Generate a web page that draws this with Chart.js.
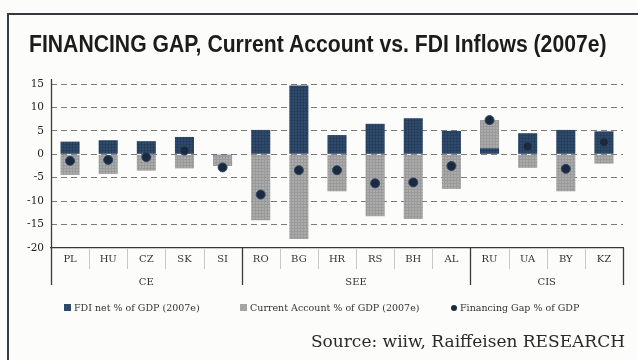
<!DOCTYPE html>
<html>
<head>
<meta charset="utf-8">
<script src="https://cdn.jsdelivr.net/npm/chart.js@4.4.1/dist/chart.umd.min.js"></script>
<style>
  html, body { margin: 0; padding: 0; background: #fcfcfa; }
  #wrap { position: relative; width: 638px; height: 360px; overflow: hidden; }
  #frameTop { position: absolute; left: 7px; top: 13px; width: 640px; height: 2px; background: #343a44; }
  #frameLeft { position: absolute; left: 7px; top: 13px; width: 2px; height: 360px; background: #343a44; }
  #title { position: absolute; left: 29px; top: 31px; font-family: "Liberation Sans Narrow", "Liberation Sans", sans-serif;
           font-weight: bold; font-size: 23px; color: #1c1c1c; white-space: nowrap; transform-origin: 0 0; }
  canvas { position: absolute; left: 0; top: 0; }
  .leg { position: absolute; top: 302px; font-family: "DejaVu Serif", serif; font-size: 9.5px; color: #333; white-space: nowrap; }
  .sw { display: inline-block; width: 7px; height: 7px; margin-right: 3px; vertical-align: 0px; }
  #source { position: absolute; right: 13px; top: 331px; font-family: "DejaVu Serif", serif; font-size: 17px; color: #2a2a2a; }
</style>
</head>
<body>
<div id="wrap">
  <canvas id="c" width="638" height="360"></canvas>
  <div id="frameTop"></div>
  <div id="frameLeft"></div>
  <div id="title">FINANCING GAP, Current Account vs. FDI Inflows (2007e)</div>
  <div class="leg" style="left:64px"><span class="sw" style="background:#2d4a6b"></span>FDI net % of GDP (2007e)</div>
  <div class="leg" style="left:240px"><span class="sw" style="background:#a4a4a4"></span>Current Account % of GDP (2007e)</div>
  <div class="leg" style="left:451px"><span class="sw" style="background:#1b2a3f;border-radius:50%;width:6px;height:6px"></span>Financing Gap % of GDP</div>
  <div id="source">Source: wiiw, Raiffeisen RESEARCH</div>
</div>
<script>
const countries = ["PL", "HU", "CZ", "SK", "SI", "RO", "BG", "HR", "RS", "BH", "AL", "RU", "UA", "BY", "KZ"];
const fdiNet = [2.7, 3.0, 2.8, 3.7, -0.2, 5.2, 14.7, 4.1, 6.5, 7.7, 5.0, 1.3, 4.5, 5.2, 4.9];
const currentAccount = [-4.4, -4.2, -3.5, -3.0, -2.3, -14.1, -18.1, -7.9, -13.2, -13.8, -7.4, 6.0, -2.9, -7.9, -2.0];
const financingGap = [-1.4, -1.2, -0.6, 0.8, -2.8, -8.6, -3.4, -3.4, -6.2, -6.0, -2.5, 7.3, 1.7, -3.1, 2.6];
const regions = ["CE", "SEE", "CIS"];
const regionSizes = [5, 6, 4];
const yTicks = [15, 10, 5, 0, -5, -10, -15, -20];

// squeeze the title to the narrow width of the original
const title = document.getElementById("title");
title.style.transform = "scaleX(" + (578 / title.offsetWidth) + ")";

// halftone-ish fill for the bars
function makePattern(base, dot, tile) {
  const c = document.createElement("canvas");
  c.width = tile; c.height = tile;
  const g = c.getContext("2d");
  g.fillStyle = base; g.fillRect(0, 0, tile, tile);
  g.fillStyle = dot; g.fillRect(0, 0, 1, tile); g.fillRect(0, 0, tile, 1);
  return g.createPattern(c, "repeat");
}
const grayFill = makePattern("#ababab", "#9a9a9a", 3);
const blueFill = makePattern("#2f4c6e", "#283f5c", 3);

// separators and region labels under the x axis
const groupAxis = {
  id: "groupAxis",
  afterDraw(chart) {
    const ctx = chart.ctx;
    const x = chart.scales.x, y = chart.scales.y;
    const bottom = y.getPixelForValue(-20);
    const step = x.getPixelForValue(1) - x.getPixelForValue(0);
    const left = x.getPixelForValue(0) - step / 2;
    const bounds = [0];
    regionSizes.forEach(n => bounds.push(bounds[bounds.length - 1] + n));
    ctx.save();
    ctx.strokeStyle = "#c8c8c8";
    ctx.lineWidth = 1;
    for (let i = 1; i < countries.length; i++) {
      if (bounds.includes(i)) continue;
      const px = Math.round(left + i * step) + 0.5;
      ctx.beginPath(); ctx.moveTo(px, bottom); ctx.lineTo(px, bottom + 21); ctx.stroke();
    }
    ctx.strokeStyle = "#3a3a3a";
    ctx.lineWidth = 1.3;
    bounds.forEach(b => {
      const px = Math.round(left + b * step) + 0.5;
      const top = b === 0 ? y.getPixelForValue(15) - 5 : bottom;
      ctx.beginPath(); ctx.moveTo(px, top); ctx.lineTo(px, 285); ctx.stroke();
    });
    ctx.fillStyle = "#333";
    ctx.font = "10px 'DejaVu Serif', serif";
    ctx.textAlign = "center";
    ctx.textBaseline = "middle";
    regions.forEach((r, k) => {
      const mid = left + (bounds[k] + bounds[k + 1]) / 2 * step;
      ctx.fillText(r, mid, 282);
    });
    ctx.restore();
  }
};

new Chart(document.getElementById("c"), {
  data: {
    labels: countries,
    datasets: [
      {
        type: "line",
        label: "Financing Gap % of GDP",
        data: financingGap,
        stack: "gap",
        showLine: false,
        pointRadius: 4.5,
        pointBackgroundColor: "#1b2a3f",
        pointBorderColor: "#2e4766",
        pointBorderWidth: 1,
        order: 0
      },
      {
        type: "bar",
        label: "FDI net % of GDP (2007e)",
        data: fdiNet,
        stack: "bars",
        backgroundColor: blueFill,
        categoryPercentage: 0.5,
        barPercentage: 1.0,
        order: 1
      },
      {
        type: "bar",
        label: "Current Account % of GDP (2007e)",
        data: currentAccount,
        stack: "bars",
        backgroundColor: grayFill,
        categoryPercentage: 0.5,
        barPercentage: 1.0,
        order: 2
      }
    ]
  },
  options: {
    responsive: false,
    animation: false,
    layout: { padding: { left: 0, right: 15, top: 84, bottom: 0 } },
    plugins: { legend: { display: false }, tooltip: { enabled: false } },
    scales: {
      x: {
        stacked: true,
        afterFit: s => { s.height = 112; },
        grid: { display: false, drawTicks: false },
        border: { display: true, color: "#3a3a3a", width: 1.3 },
        ticks: { color: "#333", font: { family: "'DejaVu Serif', serif", size: 10 }, padding: 5, maxRotation: 0 }
      },
      y: {
        stacked: true,
        min: -20,
        max: 15,
        afterFit: s => { s.width = 51; },
        afterBuildTicks: s => { s.ticks = yTicks.map(v => ({ value: v })); },
        border: { display: false, dash: [6, 4] },
        grid: {
          drawTicks: false,
          color: ctx => ctx.tick && ctx.tick.value === -20 ? "rgba(0,0,0,0)" : "#7a7a7a",
          lineWidth: 1
        },
        ticks: { color: "#222", font: { family: "'DejaVu Serif', serif", size: 10.5 }, padding: 7 }
      }
    }
  },
  plugins: [groupAxis]
});
</script>
</body>
</html>
